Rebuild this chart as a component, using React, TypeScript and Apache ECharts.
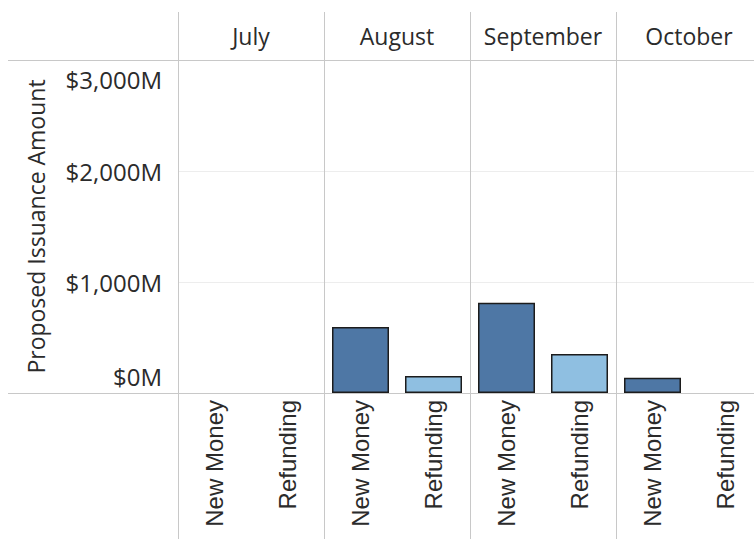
import React, { useEffect, useRef } from "react";
import * as echarts from "echarts";

const months = ["July", "August", "September", "October"];
const types = ["New Money", "Refunding"];
const newMoney: (number | null)[] = [null, 595, 813, 138];
const refunding: (number | null)[] = [null, 153, 351, null];
const yTicks = [0, 1000, 2000, 3000];

const DARK = "#4e77a5";
const LIGHT = "#8fbfe1";
const LINE = "#c8c8c8";
const TEXT = "#2b2b2b";
const FONT = "'Open Sans', sans-serif";

const CHART_W = 762;
const CHART_H = 539;
const GRID_LEFT = 178;
const GRID_TOP = 60;
const GRID_W = 584;
const GRID_H = 333;

export default function App() {
  const ref = useRef<HTMLDivElement>(null);
  useEffect(() => {
    document.body.style.margin = "0";
    document.body.style.overflow = "hidden";
    const chart = echarts.init(ref.current!, null, { renderer: "svg" });
    const cats: string[] = [];
    const data: any[] = [];
    months.forEach((m, i) => {
      types.forEach((t, j) => {
        cats.push(t);
        const v = j === 0 ? newMoney[i] : refunding[i];
        data.push({ value: v, itemStyle: { color: j === 0 ? DARK : LIGHT } });
      });
    });
    const fmt = (v: number) => "$" + v.toLocaleString("en-US") + "M";
    chart.setOption({
      animation: false,
      grid: { left: GRID_LEFT, top: GRID_TOP, width: GRID_W, height: GRID_H },
      xAxis: [
        {
          type: "category",
          data: cats,
          position: "bottom",
          axisLine: { show: false },
          axisTick: {
            show: true,
            length: 146,
            interval: (index: number) => index % 2 === 0,
            lineStyle: { color: LINE, width: 1 },
          },
          axisLabel: {
            rotate: 90,
            interval: 0,
            margin: 7,
            fontFamily: "'Liberation Sans', Arial, sans-serif",
            fontSize: 24,
            color: TEXT,
          },
          splitLine: { show: false },
        },
        {
          type: "category",
          data: months,
          position: "top",
          axisLine: { show: false },
          axisTick: { show: true, length: 48, lineStyle: { color: LINE, width: 1 } },
          axisLabel: {
            interval: 0,
            margin: 13,
            fontFamily: FONT,
            fontSize: 23,
            color: TEXT,
          },
          splitLine: { show: true, lineStyle: { color: LINE, width: 1 } },
        },
      ],
      yAxis: {
        type: "value",
        min: 0,
        max: 3000,
        interval: 1000,
        name: "Proposed Issuance Amount",
        nameLocation: "middle",
        nameGap: 131,
        nameTextStyle: { fontFamily: FONT, fontSize: 23, color: TEXT },
        axisLine: { show: true, lineStyle: { color: LINE, width: 1 } },
        axisTick: { show: false },
        axisLabel: {
          margin: 16,
          fontFamily: FONT,
          fontSize: 24,
          color: TEXT,
          verticalAlignMaxLabel: "top",
          verticalAlignMinLabel: "bottom",
          customValues: yTicks,
          formatter: (v: number) => {
            const s = fmt(v);
            if (v === yTicks[yTicks.length - 1]) return `{top|${s}}`;
            if (v === yTicks[0]) return `{bot|${s}}`;
            return s;
          },
          rich: {
            top: { lineHeight: 38, fontFamily: FONT, fontSize: 24, color: TEXT },
            bot: { lineHeight: 34, fontFamily: FONT, fontSize: 24, color: TEXT },
          },
        },
        splitLine: { show: true, lineStyle: { color: "#ededed", width: 1 } },
      },
      graphic: [
        {
          type: "line",
          z: 10,
          shape: { x1: 8, y1: GRID_TOP + 0.5, x2: CHART_W, y2: GRID_TOP + 0.5 },
          style: { stroke: LINE, lineWidth: 1 },
        },
        {
          type: "line",
          z: 10,
          shape: { x1: 8, y1: GRID_TOP + GRID_H + 0.5, x2: CHART_W, y2: GRID_TOP + GRID_H + 0.5 },
          style: { stroke: LINE, lineWidth: 1 },
        },
      ],
      series: [
        {
          type: "bar",
          xAxisIndex: 0,
          data,
          barWidth: 57,
          itemStyle: { borderColor: "#1c1c1c", borderWidth: 1.5 },
        },
      ],
    });
    return () => chart.dispose();
  }, []);
  return <div ref={ref} style={{ width: CHART_W, height: CHART_H }} />;
}
